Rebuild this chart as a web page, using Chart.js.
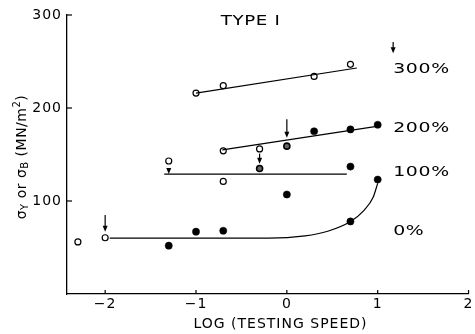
<!DOCTYPE html>
<html><head><meta charset="utf-8">
<script src="https://cdn.jsdelivr.net/npm/chart.js@4"></script>
<style>html,body{margin:0;padding:0;background:#fff}#wrap{width:475px;height:334px}</style>
</head><body><div id="wrap"><canvas id="c" width="475" height="334"></canvas></div>
<script>
// log(testing speed) values and stresses (MN/m^2)
const xTicks = [-2, -1, 0, 1, 2];
const yTicks = [100, 200, 300];

const fit300 = [[-1.0, 216], [0.77, 243]];
const open300 = [[-1.0, 216], [-0.7, 224], [0.3, 234], [0.7, 247]];

const fit200 = [[-0.71, 155], [0.97, 180]];
const open200 = [[-0.7, 154], [-0.3, 156]];
const half200 = [[0.0, 159]];
const filled200 = [[0.3, 175], [0.7, 177], [1.0, 182]];

const fit100 = [[-1.35, 129], [0.66, 129]];
const open100 = [[-1.3, 143], [-0.7, 121]];
const half100 = [[-0.3, 135]];
const filled100 = [[0.0, 107], [0.7, 137]];

const curve0 = [[-1.95, 60], [-1.0, 60], [-0.2, 60], [0.2, 62.5], [0.45, 67.5], [0.7, 78], [0.85, 90], [0.95, 104], [1.0, 119]];
const open0 = [[-2.3, 56], [-2.0, 60.5]];
const filled0 = [[-1.3, 52], [-1.0, 67], [-0.7, 68], [0.7, 78], [1.0, 123]];

// arrows: x, from y, to y (pointing down)
const arrows = [[-2.0, 85, 67], [0.0, 188, 168], [-0.3, 151, 140], [-1.3, 134, 129], [1.17, 271, 259]];

const seriesLabels = ['300%', '200%', '100%', '0%'];
const titleText = 'TYPE I';

const pts = a => a.map(p => ({x: p[0], y: p[1]}));
const lineDs = a => ({type: 'line', data: pts(a), borderColor: '#000', borderWidth: 1.2, pointRadius: 0, fill: false, showLine: true});
const openDs = a => ({type: 'scatter', data: pts(a), pointRadius: 3, pointBorderWidth: 1.2, pointBorderColor: '#000', pointBackgroundColor: '#fff'});
const halfDs = a => ({type: 'scatter', data: pts(a), pointRadius: 3, pointBorderWidth: 1.6, pointBorderColor: '#000', pointBackgroundColor: '#666'});
const fillDs = a => ({type: 'scatter', data: pts(a), pointRadius: 3.6, pointBorderWidth: 0.5, pointBorderColor: '#000', pointBackgroundColor: '#000'});

const FONT = '"DejaVu Sans", sans-serif';

function wideText(ctx, t, px, py, sx, align) {
  ctx.save();
  ctx.translate(px, py); ctx.scale(sx, 1);
  ctx.textAlign = align;
  ctx.fillText(t, 0, 0);
  ctx.restore();
}

const deco = {
  id: 'deco',
  beforeDraw(chart) { chart.ctx.letterSpacing = '1px'; },
  beforeDatasetsDraw(chart) { chart.ctx.letterSpacing = '0px'; },
  afterDatasetsDraw(chart) {
    const {ctx, scales: {x, y}} = chart;
    ctx.save();
    ctx.strokeStyle = '#000'; ctx.fillStyle = '#000'; ctx.lineWidth = 1.2;
    // inward tick marks
    yTicks.forEach(v => { const py = y.getPixelForValue(v); ctx.beginPath(); ctx.moveTo(x.left, py); ctx.lineTo(x.left + 5, py); ctx.stroke(); });
    xTicks.forEach(v => { const px = x.getPixelForValue(v); ctx.beginPath(); ctx.moveTo(px, y.bottom); ctx.lineTo(px, y.bottom - 4); ctx.stroke(); });
    // arrows
    arrows.forEach(a => {
      const px = x.getPixelForValue(a[0]), p1 = y.getPixelForValue(a[1]), p2 = y.getPixelForValue(a[2]);
      ctx.beginPath(); ctx.moveTo(px, p1); ctx.lineTo(px, p2 - 3); ctx.stroke();
      ctx.beginPath(); ctx.moveTo(px - 2.5, p2 - 6); ctx.lineTo(px + 2.5, p2 - 6); ctx.lineTo(px, p2); ctx.closePath(); ctx.fill();
    });
    // texts
    ctx.font = '14px ' + FONT; ctx.textBaseline = 'middle';
    ctx.letterSpacing = '0.5px';
    const labY = [242, 178, 131, 67];
    seriesLabels.forEach((t, i) => wideText(ctx, t, x.getPixelForValue(1.17), y.getPixelForValue(labY[i]), 1.35, 'left'));
    wideText(ctx, titleText, x.getPixelForValue(-0.4), y.getPixelForValue(293), 1.3, 'center');
    ctx.textAlign = 'center';
    ctx.letterSpacing = '1px';
    ctx.fillText('LOG (TESTING SPEED)', x.getPixelForValue(-0.07), 324);
    // y title with sub/superscripts, rotated
    ctx.letterSpacing = '0.5px';
    const parts = [['σ', 0, 14], ['Y', 3, 10], [' or σ', 0, 14], ['B', 3, 10], [' (MN/m', 0, 14], ['2', -5, 10], [')', 0, 14]];
    let w = 0;
    parts.forEach(p => { ctx.font = p[2] + 'px ' + FONT; w += ctx.measureText(p[0]).width; });
    ctx.translate(22, 157); ctx.rotate(-Math.PI / 2);
    ctx.textAlign = 'left';
    let cx = -w / 2;
    parts.forEach(p => { ctx.font = p[2] + 'px ' + FONT; ctx.fillText(p[0], cx, p[1]); cx += ctx.measureText(p[0]).width; });
    ctx.restore();
  }
};

new Chart(document.getElementById('c'), {
  type: 'scatter',
  data: {datasets: [
    lineDs(fit300), lineDs(fit200), lineDs(fit100),
    Object.assign(lineDs(curve0), {tension: 0.4, cubicInterpolationMode: 'monotone'}),
    openDs(open300), openDs(open200), halfDs(half200), fillDs(filled200),
    openDs(open100), halfDs(half100), fillDs(filled100),
    openDs(open0), fillDs(filled0)
  ]},
  options: {
    responsive: false, animation: false, events: [],
    layout: {padding: {top: 15, right: 5, left: 0, bottom: 0}},
    plugins: {legend: {display: false}, tooltip: {enabled: false}},
    scales: {
      x: {type: 'linear', min: -2.42, max: 2,
        afterBuildTicks: s => { s.ticks = xTicks.map(v => ({value: v})); },
        afterFit: s => { s.height = 40; },
        grid: {display: false, drawTicks: false},
        border: {display: true, color: '#000', width: 1.3},
        ticks: {color: '#000', font: {family: FONT, size: 14}, padding: 2, callback: v => (v < 0 ? '\u2212' + Math.abs(v) : String(v))}},
      y: {type: 'linear', min: 0, max: 300,
        afterBuildTicks: s => { s.ticks = yTicks.map(v => ({value: v})); },
        afterFit: s => { s.width = 67; },
        grid: {display: false, drawTicks: false},
        border: {display: true, color: '#000', width: 1.3},
        ticks: {color: '#000', font: {family: FONT, size: 14}, padding: 5}}
    }
  },
  plugins: [deco]
});
</script></body></html>
